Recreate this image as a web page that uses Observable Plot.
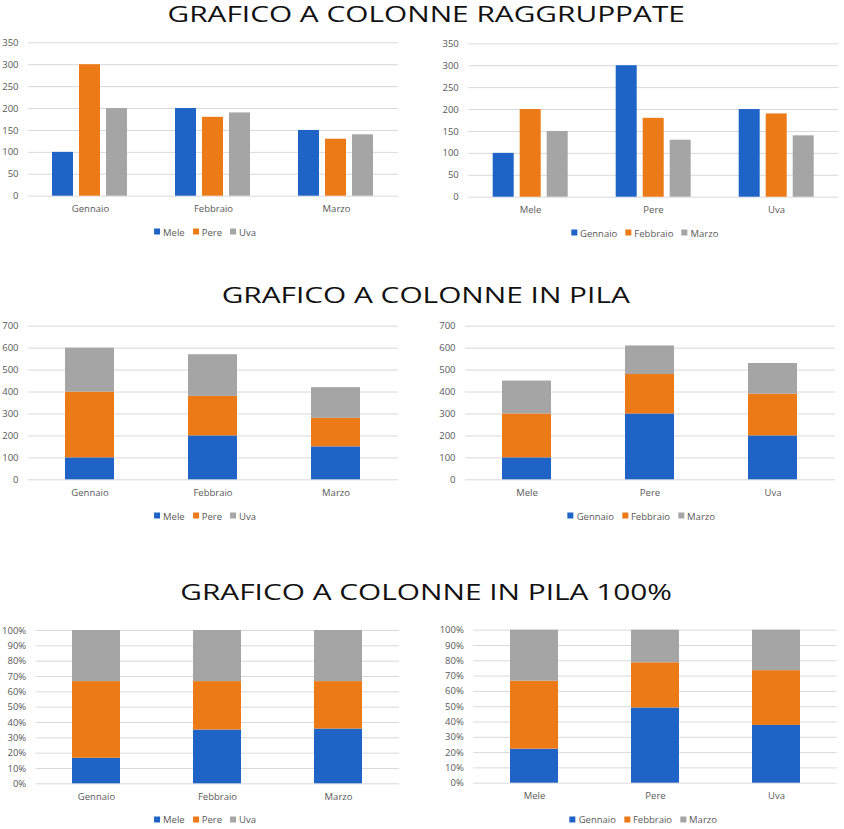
<!DOCTYPE html>
<html><head><meta charset="utf-8">
<script src="https://cdn.jsdelivr.net/npm/d3@7"></script>
<script src="https://cdn.jsdelivr.net/npm/@observablehq/plot@0.6"></script>
<style>
body{margin:0;background:#fff;font-family:"Open Sans",sans-serif;}
#root{position:relative;width:844px;height:829px;overflow:hidden;background:#fff;}
.title{position:absolute;left:4px;width:844px;text-align:center;font-size:21px;color:#111;line-height:normal;white-space:nowrap;}
.title span{display:inline-block;transform:scaleX(1.42);transform-origin:50% 50%;}
.chart{position:absolute;}
.chart svg{display:block;}
.layer{position:absolute;left:0;top:0;}
.leg{position:absolute;transform:translate(-50%,-50%);}
.lg-swatches{margin:0 !important;min-height:0 !important;font-size:9.5px !important;font-family:"Open Sans",sans-serif !important;color:#595959;}
.lg-swatches-wrap .lg-swatch{margin-right:8px !important;}
.lg-swatches-wrap .lg-swatch:last-child{margin-right:0 !important;}
.lg-swatch > svg{margin-right:3px !important;}
</style>
</head><body>
<div id="root"></div>
<script>
// ---- data ----
const months = ["Gennaio", "Febbraio", "Marzo"];
const fruits = ["Mele", "Pere", "Uva"];
// values per month (Gennaio, Febbraio, Marzo)
const mele = [100, 200, 150];
const pere = [300, 180, 130];
const uva = [200, 190, 140];
const seriesColors = ["#1f63c6", "#ec7a17", "#a5a5a5"];
const ticksGrouped = [0, 50, 100, 150, 200, 250, 300, 350];
const ticksStacked = [0, 100, 200, 300, 400, 500, 600, 700];
const ticksPercent = [0, 0.1, 0.2, 0.3, 0.4, 0.5, 0.6, 0.7, 0.8, 0.9, 1];
const titles = ["GRAFICO A COLONNE RAGGRUPPATE", "GRAFICO A COLONNE IN PILA", "GRAFICO A COLONNE IN PILA 100%"];

const fruitValues = {Mele: mele, Pere: pere, Uva: uva};
// rows with category = month, series = fruit
const byMonth = [];
months.forEach((m, i) => fruits.forEach(f => byMonth.push({cat: m, ser: f, value: fruitValues[f][i]})));
// rows with category = fruit, series = month
const byFruit = [];
fruits.forEach(f => months.forEach((m, i) => byFruit.push({cat: f, ser: m, value: fruitValues[f][i]})));

const root = document.getElementById("root");
const FONT = {fontFamily: "'Open Sans', sans-serif", fontSize: "9.5px", color: "#595959", background: "transparent", overflow: "visible"};
const GRID = "#d9d9d9";

function addTitle(text, top) {
  const d = document.createElement("div");
  d.className = "title"; d.style.top = top + "px";
  const s = document.createElement("span"); s.textContent = text;
  d.appendChild(s); root.appendChild(d);
}
function place(nodes, left, top, w, h) {
  const d = document.createElement("div");
  d.className = "chart"; d.style.left = left + "px"; d.style.top = top + "px";
  d.style.width = w + "px"; d.style.height = h + "px";
  nodes.forEach(n => { const l = document.createElement("div"); l.className = "layer"; l.appendChild(n); d.appendChild(l); });
  root.appendChild(d);
}
function addLegend(domain, cx, cy) {
  const lg = Plot.legend({color: {domain, range: seriesColors}, legend: "swatches", swatchSize: 6, className: "lg"});
  const d = document.createElement("div");
  d.className = "leg"; d.style.left = cx + "px"; d.style.top = cy + "px";
  d.appendChild(lg); root.appendChild(d);
}

function frame(dims) {
  return {width: dims.width, height: dims.height,
    marginLeft: dims.ml, marginRight: dims.mr, marginTop: dims.mt, marginBottom: dims.mb, style: FONT};
}

// grouped columns: a background layer (grid + y axis) and a faceted layer (bars + category axis)
function grouped(rows, cats, sers, dims) {
  const yScale = {domain: [0, 350], ticks: ticksGrouped, tickSize: 0, tickPadding: 10, label: null};
  const back = Plot.plot({
    ...frame(dims),
    y: yScale,
    marks: [Plot.ruleY(ticksGrouped, {stroke: GRID, strokeWidth: 1})]
  });
  const front = Plot.plot({
    ...frame(dims),
    fx: {domain: cats, paddingInner: 0.384, paddingOuter: 0.192, axis: "bottom", label: null, tickSize: 0, tickPadding: 9},
    x: {domain: sers, paddingInner: 0.22, paddingOuter: 0, axis: null},
    y: {...yScale, axis: null},
    color: {domain: sers, range: seriesColors},
    marks: [Plot.barY(rows, {fx: "cat", x: "ser", y: "value", fill: "ser"})]
  });
  return [back, front];
}

function stacked(rows, cats, sers, dims, normalize) {
  const ticks = normalize ? ticksPercent : ticksStacked;
  return [Plot.plot({
    ...frame(dims),
    x: {domain: cats, paddingInner: 0.6, paddingOuter: 0.3, label: null, tickSize: 0, tickPadding: 9},
    y: {domain: normalize ? [0, 1] : [0, 700], ticks, tickSize: 0, tickPadding: 10, label: null,
        tickFormat: normalize ? d3.format(".0%") : d3.format("d")},
    color: {domain: sers, range: seriesColors},
    marks: [
      Plot.ruleY(ticks, {stroke: GRID, strokeWidth: 1}),
      Plot.barY(rows, Plot.stackY({offset: normalize ? "normalize" : null, order: sers, x: "cat", y: "value", fill: "ser"}))
    ]
  })];
}

addTitle(titles[0], 0);
addTitle(titles[1], 280.8);
addTitle(titles[2], 578.1);

// Row 1: grouped
let dm;
dm = {width: 420, height: 190, ml: 28, mr: 22, mt: 12.3, mb: 24.3};
place(grouped(byMonth, months, fruits, dm), 0, 30, dm.width, dm.height);
dm = {width: 424, height: 190, ml: 48.3, mr: 5.7, mt: 13.3, mb: 23.3};
place(grouped(byFruit, fruits, months, dm), 420, 30, dm.width, dm.height);
addLegend(fruits, 205, 231.7);
addLegend(months, 644.7, 232.7);

// Row 2: stacked
dm = {width: 420, height: 195, ml: 28, mr: 22, mt: 15.7, mb: 25.7};
place(stacked(byMonth, months, fruits, dm, false), 0, 310, dm.width, dm.height);
dm = {width: 424, height: 195, ml: 45, mr: 9, mt: 15.7, mb: 25.7};
place(stacked(byFruit, fruits, months, dm, false), 420, 310, dm.width, dm.height);
addLegend(fruits, 205, 515.7);
addLegend(months, 641.3, 515.7);

// Row 3: 100% stacked
dm = {width: 420, height: 195, ml: 35.7, mr: 21, mt: 15, mb: 26.7};
place(stacked(byMonth, months, fruits, dm, true), 0, 615, dm.width, dm.height);
dm = {width: 424, height: 195, ml: 53.3, mr: 7.3, mt: 14.7, mb: 27.3};
place(stacked(byFruit, fruits, months, dm, true), 420, 615, dm.width, dm.height);
addLegend(fruits, 205, 819);
addLegend(months, 643.3, 819);
</script>
</body></html>
